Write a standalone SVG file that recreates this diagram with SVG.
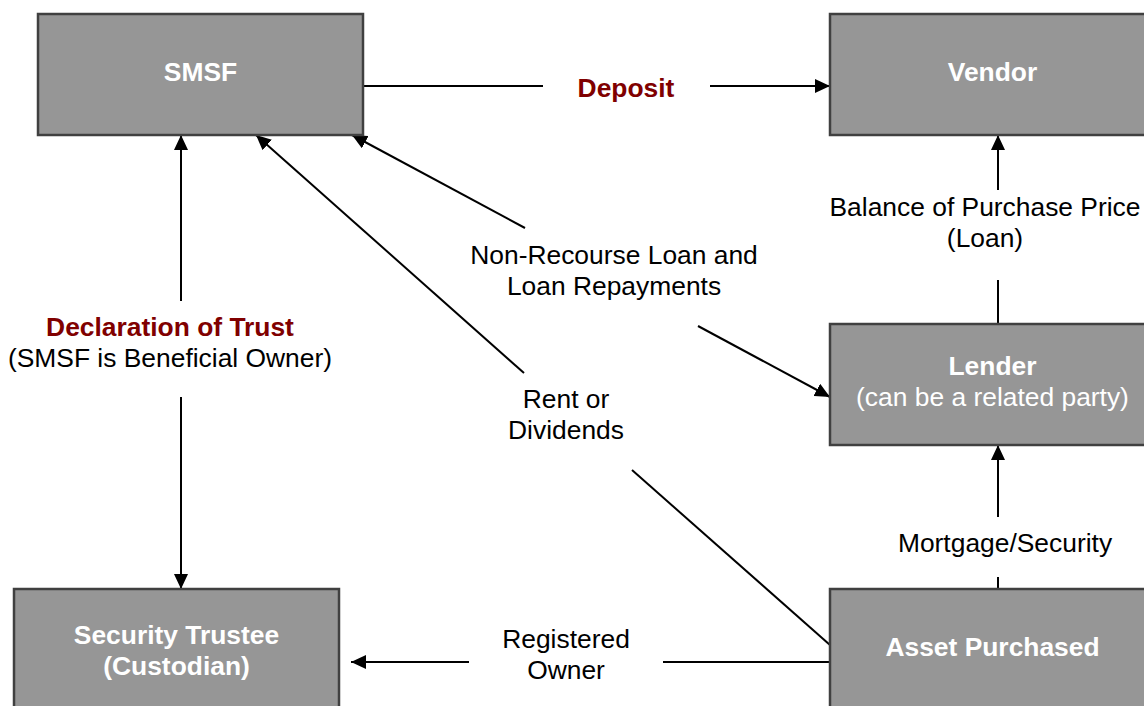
<svg xmlns="http://www.w3.org/2000/svg" width="1144" height="706" viewBox="0 0 1144 706">
<style>
.box{fill:#969696;stroke:#404040;stroke-width:2.5}
.bl{font-family:"Liberation Sans",Arial,sans-serif;font-size:26.4px;fill:#fff;text-anchor:middle}
.b{font-weight:bold}
.lb{font-family:"Liberation Sans",Arial,sans-serif;font-size:26.4px;fill:#000;text-anchor:middle}
.red{fill:#800000;font-weight:bold}
.ln{stroke:#000;stroke-width:2;fill:none}
.ar{marker-end:url(#ah)}
</style>
<defs>
<marker id="ah" markerUnits="userSpaceOnUse" markerWidth="16" markerHeight="14" refX="15" refY="7" orient="auto">
<path d="M0,0 L15,7 L0,14 z" fill="#000"/>
</marker>
</defs>
<rect width="1144" height="706" fill="#fff"/>
<g id="connectors">
<line class="ln" x1="363" y1="86" x2="543" y2="86"/>
<line class="ln ar" x1="710" y1="86" x2="830" y2="86"/>
<line class="ln" x1="998" y1="324" x2="998" y2="280"/>
<line class="ln ar" x1="998" y1="190" x2="998" y2="135"/>
<line class="ln" x1="998" y1="589" x2="998" y2="577"/>
<line class="ln ar" x1="998" y1="517" x2="998" y2="445"/>
<line class="ln ar" x1="181" y1="301" x2="181" y2="135"/>
<line class="ln ar" x1="181" y1="397" x2="181" y2="589"/>
<line class="ln ar" x1="525" y1="228" x2="352" y2="135"/>
<line class="ln ar" x1="698" y1="326" x2="830" y2="397"/>
<line class="ln ar" x1="524" y1="373" x2="256" y2="135"/>
<line class="ln" x1="632" y1="470" x2="830" y2="645"/>
<line class="ln" x1="830" y1="662" x2="663" y2="662"/>
<line class="ln ar" x1="469" y1="662" x2="351" y2="662"/>
<text class="lb red" x="626" y="97">Deposit</text>
<text class="lb" x="985" y="216">Balance of Purchase Price</text>
<text class="lb" x="985" y="247">(Loan)</text>
<text class="lb" x="614" y="264">Non-Recourse Loan and</text>
<text class="lb" x="614" y="295">Loan Repayments</text>
<text class="lb red" x="170" y="336">Declaration of Trust</text>
<text class="lb" x="170" y="367">(SMSF is Beneficial Owner)</text>
<text class="lb" x="566" y="408">Rent or</text>
<text class="lb" x="566" y="439">Dividends</text>
<text class="lb" x="1005" y="552">Mortgage/Security</text>
<text class="lb" x="566" y="648">Registered</text>
<text class="lb" x="566" y="679">Owner</text>
</g>
<g id="smsf">
<rect class="box" x="38" y="14" width="325" height="121"/>
<text class="bl b" x="200.5" y="81">SMSF</text>
</g>
<g id="vendor">
<rect class="box" x="830" y="14" width="325" height="121"/>
<text class="bl b" x="992.5" y="81">Vendor</text>
</g>
<g id="lender">
<rect class="box" x="830" y="324" width="325" height="121"/>
<text class="bl b" x="992.5" y="375">Lender</text>
<text class="bl" x="992.5" y="406">(can be a related party)</text>
</g>
<g id="trustee">
<rect class="box" x="14" y="589" width="325" height="125"/>
<text class="bl b" x="176.5" y="644">Security Trustee</text>
<text class="bl b" x="176.5" y="675">(Custodian)</text>
</g>
<g id="asset">
<rect class="box" x="830" y="589" width="325" height="125"/>
<text class="bl b" x="992.5" y="656">Asset Purchased</text>
</g>
</svg>
